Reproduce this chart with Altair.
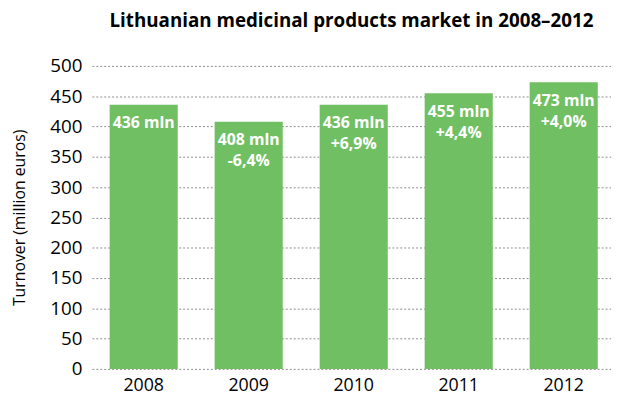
import altair as alt
import pandas as pd

years = ["2008", "2009", "2010", "2011", "2012"]
turnover = [436, 408, 436, 455, 473]
labels = ["436 mln", "408 mln\n-6,4%", "436 mln\n+6,9%", "455 mln\n+4,4%", "473 mln\n+4,0%"]

df = pd.DataFrame({"year": years, "value": turnover, "label": labels})

FONT = "Open Sans"

base = alt.Chart(df).encode(
    x=alt.X("year:N", sort=years, title=None,
            scale=alt.Scale(paddingInner=0.3515, paddingOuter=0.1476, align=0.573),
            axis=alt.Axis(labelAngle=0, domain=False, ticks=False, labelFontSize=18,
                          labelColor="#000", labelFont=FONT, labelPadding=8, grid=False)),
    y=alt.Y("value:Q", title="Turnover (million euros)",
            scale=alt.Scale(domain=[0, 500]),
            axis=alt.Axis(values=list(range(0, 501, 50)), domain=False, ticks=False,
                          labelFontSize=19, labelColor="#000", labelFont=FONT, labelPadding=10,
                          titleFontSize=16, titleFont=FONT, titleFontWeight="normal",
                          titleColor="#000", titlePadding=23,
                          grid=True, gridDash=[2, 2], gridColor="#8c8c8c", gridWidth=1)),
)

bars = base.mark_bar(color="#71BF63")
text = base.mark_text(color="white", fontWeight="bold", fontSize=16, font=FONT,
                      baseline="top", dy=11, lineBreak="\n", lineHeight=21).encode(text="label:N")

chart = (bars + text).properties(
    width=526, height=307,
    title=alt.Title("Lithuanian medicinal products market in 2008–2012", fontSize=19,
                    font=FONT, fontWeight="bold", color="#000", anchor="middle", offset=26),
    autosize=alt.AutoSizeParams(type="none"),
    padding={"left": 85, "top": 56, "right": 0, "bottom": 40},
).configure_view(stroke=None)

chart.save("out.html", embed_options={"renderer": "svg", "actions": False})
